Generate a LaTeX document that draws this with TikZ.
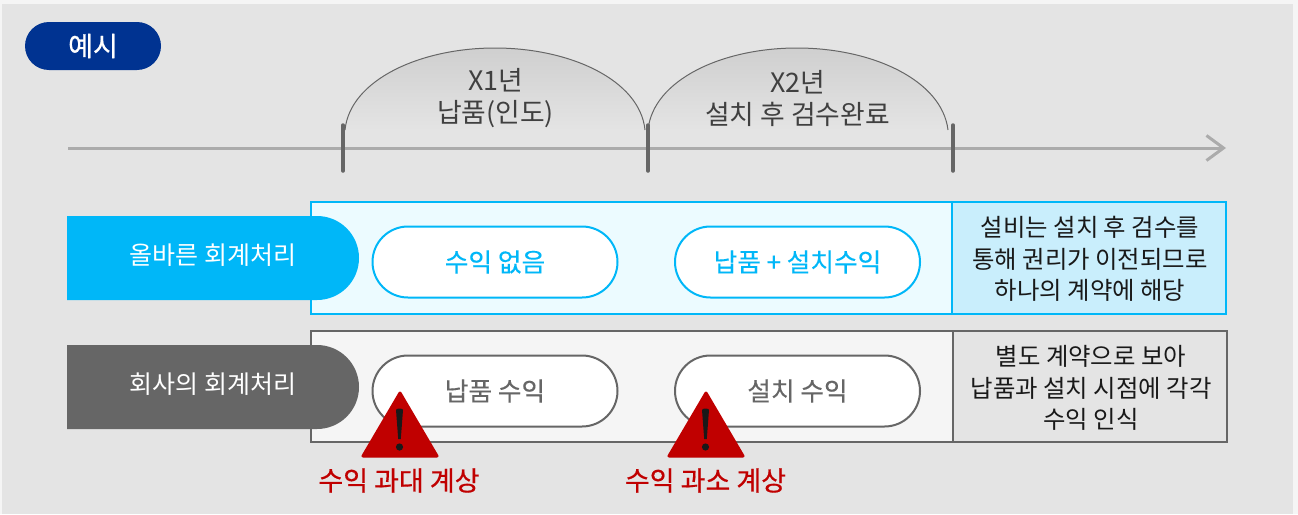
\documentclass[tikz,border=0pt]{standalone}
\usepackage{fontspec}
\setmainfont{Noto Sans CJK KR}
\usetikzlibrary{arrows.meta,shapes.misc,shadings,shadows,calc}
\definecolor{bgout}{HTML}{F5F5F5}
\definecolor{bgin}{HTML}{E4E4E4}
\definecolor{cyanm}{HTML}{00B7F8}
\definecolor{cyanl}{HTML}{ECFBFF}
\definecolor{cyanr}{HTML}{C9EEFC}
\definecolor{grym}{HTML}{666666}
\definecolor{navy}{HTML}{003391}
\definecolor{redm}{HTML}{C00000}
\definecolor{domec}{HTML}{CFCFCF}
\tikzset{
  x=1pt,y=-1pt,
  every node/.style={inner sep=0pt,outer sep=0pt,align=center,font=\fontsize{25}{31.5}\selectfont},
  pill/.style={draw,line width=2pt,fill=white,rounded rectangle,minimum width=245pt,minimum height=71pt,font=\fontsize{25.7}{31.5}\selectfont\addfontfeature{FakeBold=0.3}},
  bluepill/.style={pill,draw=cyanm,text=cyanm},
  graypill/.style={pill,draw=grym,text=grym},
  tab/.style={rounded rectangle,rounded rectangle west arc=none,minimum width=292pt,minimum height=84pt,text=white},
  tick/.style={draw=grym,line width=3.5pt,line cap=round},
  dome/.style={top color=domec,bottom color=bgin},
  domeline/.style={draw=grym,line width=1pt},
  domelabel/.style={text=black!75,font=\fontsize{26.8}{32}\selectfont},
  sidenote/.style={text=black!90,font=\fontsize{24.4}{31.5}\selectfont},
  warn/.style={fill=redm,draw=redm,line width=3pt,line join=round,drop shadow={shadow xshift=1pt,shadow yshift=-1pt,opacity=.25,fill=black}},
  warntxt/.style={text=redm,font=\fontsize{27}{30}\selectfont\addfontfeature{FakeBold=0.6}},
}
\begin{document}
\begin{tikzpicture}
\useasboundingbox (0,0) rectangle (1298,514);
\fill[bgout] (0,0) rectangle (1298,514);
\fill[bgin] (2,4) rectangle (1293,514);
% badge
\node[fill=navy,text=white,rounded rectangle,minimum width=136pt,minimum height=48pt,font=\fontsize{27}{30}\selectfont\addfontfeature{FakeBold=0.6}] (badge) at (93,46) {예시};
% domes
\path[dome] (345,130) .. controls (350,80) and (420,48) .. (495,48) .. controls (570,48) and (640,80) .. (645,130) -- cycle;
\path[dome] (648,130) .. controls (653,80) and (722,48) .. (797,48) .. controls (872,48) and (942,80) .. (948,130) -- cycle;
\draw[domeline] (345,130) .. controls (350,80) and (420,48) .. (495,48) .. controls (570,48) and (640,80) .. (645,130);
\draw[domeline] (648,130) .. controls (653,80) and (722,48) .. (797,48) .. controls (872,48) and (942,80) .. (948,130);
\node[domelabel] (y1) at (495.5,98.5) {X1년\\납품(인도)};
\node[domelabel] (y2) at (797.5,98.5) {X2년\\설치 후 검수완료};
% axis
\coordinate (axs) at (68,148);
\coordinate (axe) at (1226,148);
\draw[draw=black!33,line width=3pt,-{Straight Barb[length=17pt,width=25pt,line width=3pt]}] (axs) -- (axe);
\draw[tick] (343,125) -- (343,171);
\draw[tick] (648,125) -- (648,171);
\draw[tick] (953,125) -- (953,171);
% blue row
\draw[draw=cyanm,line width=2pt,fill=cyanl] (311,202) rectangle (952,314);
\draw[draw=cyanm,line width=2pt,fill=cyanr] (952,202) rectangle (1226,314);
\node[tab,fill=cyanm] (bt) at (213,258) {};
\node[text=white] at (213,255.5) {올바른 회계처리};
\node[bluepill] (b1) at (495,262) {수익 없음};
\node[bluepill] (b2) at (797.5,262) {납품 + 설치수익};
\node[sidenote] (bn) at (1090,259) {설비는 설치 후 검수를\\통해 권리가 이전되므로\\하나의 계약에 해당};
% gray row
\draw[draw=grym,line width=2pt,fill=bgout] (311,331) rectangle (953,442);
\draw[draw=grym,line width=2pt,fill=bgin] (953,331) rectangle (1227,442);
\node[tab,fill=grym] (gt) at (213,387) {};
\node[text=white] at (213,384.5) {회사의 회계처리};
\node[graypill] (g1) at (495,391) {납품 수익};
\node[graypill] (g2) at (797.5,391) {설치 수익};
\node[sidenote] (gn) at (1091,388) {별도 계약으로 보아\\납품과 설치 시점에 각각\\수익 인식};
% warnings
\path[warn] (400,393) -- (437,456) -- (363,456) -- cycle;
\path[warn] (706,393) -- (743,456) -- (669,456) -- cycle;
\fill[black!90] (396,410) .. controls (396,408) and (403,408) .. (403,410) -- (400.8,439) -- (398.2,439) -- cycle;
\fill[black!90] (399.5,447) circle (3.6);
\fill[black!90] (702,410) .. controls (702,408) and (709,408) .. (709,410) -- (706.8,439) -- (704.2,439) -- cycle;
\fill[black!90] (705.5,447) circle (3.6);
\node[warntxt] (w1) at (399,480.5) {수익 과대 계상};
\node[warntxt] (w2) at (705.5,480.5) {수익 과소 계상};
\end{tikzpicture}
\end{document}
